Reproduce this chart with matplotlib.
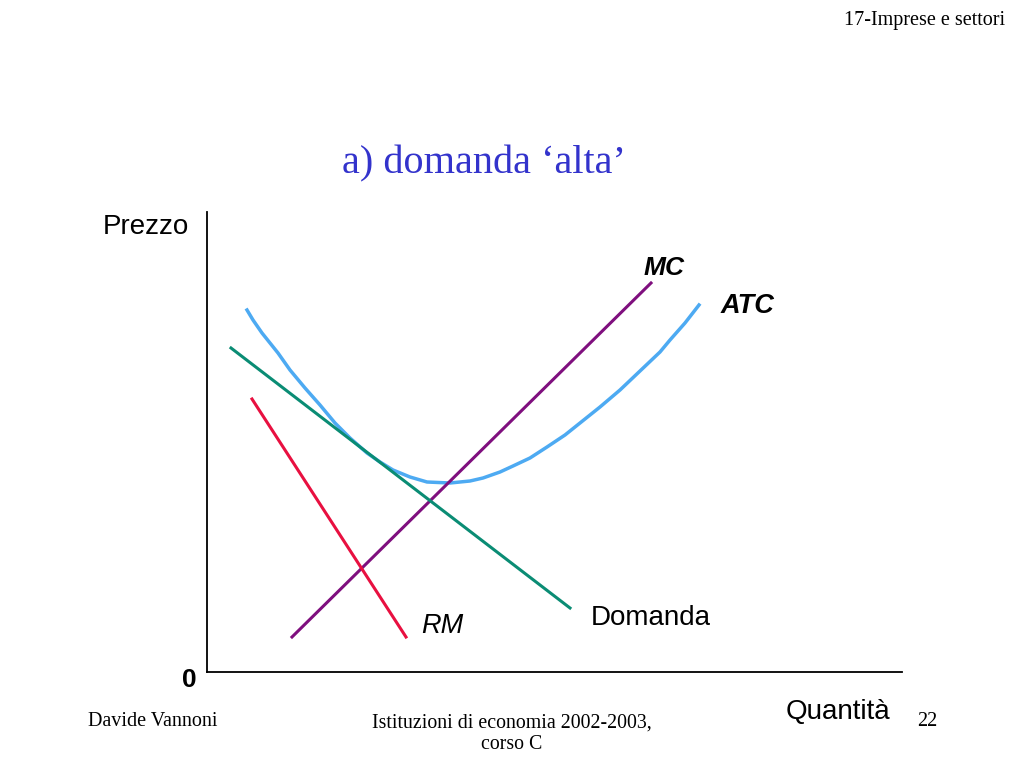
import matplotlib.pyplot as plt

# curve values (quantity, price) in chart units, origin at the axes corner
atc_q = [40, 46, 55, 71, 83, 98, 113, 128, 143, 160, 173, 186, 203, 220, 243,
         263, 276, 293, 306, 323, 340, 358, 373, 393, 413, 433, 453, 463, 478, 492]
atc_p = [362, 352, 339, 319, 302, 284, 267, 249, 234, 219, 210, 202, 195, 190, 189,
         191, 194, 200, 206, 214, 225, 237, 249, 265, 282, 301, 320, 332, 349, 367]

mc_q = [85, 444]
mc_p = [35, 389]

dem_q = [24, 363]
dem_p = [324, 64]

rm_q = [45, 199]
rm_p = [273, 35]

W, H = 1024, 768
fig = plt.figure(figsize=(W / 100, H / 100), dpi=100)
fig.patch.set_facecolor("white")

# axes box matches the drawn axis lines
x0, y0, x1, y1 = 207, 212, 902, 672
ax = fig.add_axes([x0 / W, 1 - y1 / H, (x1 - x0) / W, (y1 - y0) / H])
ax.set_xlim(0, x1 - x0)
ax.set_ylim(0, y1 - y0)
for s in ["top", "right"]:
    ax.spines[s].set_visible(False)
for s in ["left", "bottom"]:
    ax.spines[s].set_linewidth(1.3)
    ax.spines[s].set_color("black")
ax.set_xticks([])
ax.set_yticks([])
ax.patch.set_alpha(0)

ax.plot(atc_q, atc_p, color="#4DAAF2", lw=2.5, solid_joinstyle="round")
ax.plot(mc_q, mc_p, color="#7F0F7E", lw=2.2)
ax.plot(dem_q, dem_p, color="#0A8C74", lw=2.2)
ax.plot(rm_q, rm_p, color="#E81040", lw=2.2)

sans = "Liberation Sans"
serif = "Liberation Serif"

ax.text(457, 404, "MC", fontsize=19, fontweight="bold", fontstyle="italic",
        family=sans, ha="center", va="center")
ax.text(541, 366, "ATC", fontsize=19.5, fontweight="bold", fontstyle="italic",
        family=sans, ha="center", va="center")
ax.text(235, 46, "RM", fontsize=19.5, fontstyle="italic",
        family=sans, ha="center", va="center")
ax.text(444, 54, "Domanda", fontsize=20, family=sans, ha="center", va="center")

fig.text(146 / W, 1 - 227 / H, "Prezzo", fontsize=20, family=sans, ha="center", va="center")
fig.text(189 / W, 1 - 680 / H, "0", fontsize=19, fontweight="bold", family=sans,
         ha="center", va="center")
fig.text(838 / W, 1 - 712 / H, "Quantità", fontsize=20, family=sans, ha="center", va="center")

fig.text(484 / W, 1 - 164 / H, "a) domanda \u2018alta\u2019", fontsize=29, family=serif,
         color="#3333CC", ha="center", va="center")
fig.text(1005 / W, 1 - 20 / H, "17-Imprese e settori", fontsize=14.5, family=serif,
         ha="right", va="center")
fig.text(153 / W, 1 - 721 / H, "Davide Vannoni", fontsize=14.5, family=serif,
         ha="center", va="center")
fig.text(512 / W, 1 - 734 / H, "Istituzioni di economia 2002-2003,\ncorso C", fontsize=14.3,
         family=serif, ha="center", va="center", linespacing=1.2)
fig.text(927 / W, 1 - 721 / H, "22", fontsize=14.5, family=serif, ha="center", va="center")

fig.savefig("out.png", dpi=100)
